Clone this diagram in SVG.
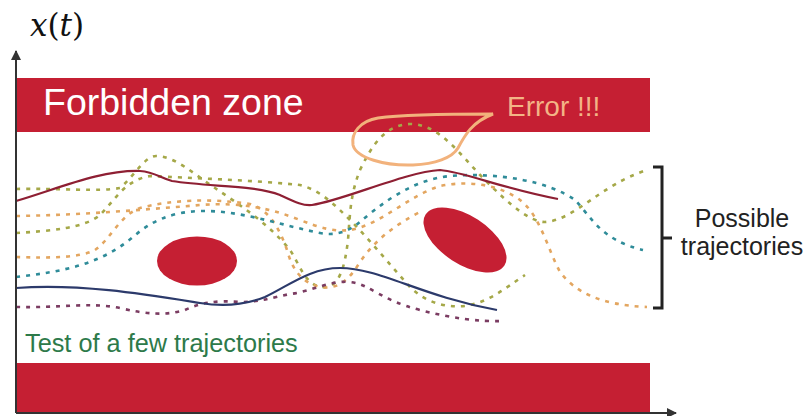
<svg xmlns="http://www.w3.org/2000/svg" width="810" height="416" viewBox="0 0 810 416">
<style>
.zone{fill:#c51f33}
.axis{stroke:#333;stroke-width:2;fill:none}
.dash{fill:none;stroke-width:2.6;stroke-dasharray:4 6;stroke-linecap:butt}
.olive{stroke:#a5a848}
.tan{stroke:#e3a660}
.teal{stroke:#2f8c99}
.purple{stroke:#7b3c62}
.solid{fill:none;stroke-width:2.2}
.lbl{font-family:"Liberation Sans",Arial,sans-serif}
</style>
<defs>
<marker id="arr" viewBox="0 0 10 10" refX="9" refY="5" markerWidth="10" markerHeight="10" markerUnits="userSpaceOnUse" orient="auto">
<path d="M0,0 L10,5 L0,10 Z" fill="#333"/>
</marker>
</defs>
<rect width="810" height="416" fill="#fff"/>
<g id="forbidden-top">
<rect class="zone" x="16" y="78" width="634" height="54"/>
<text class="lbl" x="43" y="115" font-size="37.5" fill="#fff">Forbidden zone</text>
</g>
<g id="forbidden-bottom">
<rect class="zone" x="16" y="363" width="634" height="49"/>
</g>
<g id="obstacle-1"><ellipse class="zone" cx="197" cy="261" rx="40" ry="24.5"/></g>
<g id="obstacle-2"><ellipse class="zone" cx="465" cy="240" rx="47" ry="24" transform="rotate(33 465 240)"/></g>
<g id="trajectories">
<path class="dash olive" d="M16,189 C60,188 100,192 120,188 C135,175 145,156 156,156 C175,156 195,175 215,188 C240,205 270,225 290,250 C300,265 305,285 322,287 C340,289 345,265 348,240 C350,215 350,195 360,170 C372,145 385,125 410,124 C440,124 460,155 485,180 C510,205 530,222 545,222 C575,220 600,185 647,170"/>
<path class="dash olive" d="M16,233 C50,231 85,228 100,215 C115,200 125,180 150,176 C190,178 250,180 300,185 C320,190 335,205 350,220 C370,240 390,265 410,287 C425,302 445,308 465,306 C490,302 505,288 525,275"/>
<path class="dash tan" d="M16,216 C80,215 140,210 200,205 C240,202 270,208 300,220 C320,228 335,232 350,230 C380,225 410,195 440,186 C470,180 500,185 520,200 C540,215 548,250 560,272 C575,292 600,305 647,307"/>
<path class="dash tan" d="M16,257 C50,258 80,258 95,250 C110,240 120,215 140,208 C170,200 210,198 250,204 C270,210 280,230 287,250 C292,268 300,282 320,287 C340,290 350,278 360,262 C375,240 395,225 420,212"/>
<path class="dash teal" d="M16,277 C60,272 100,265 133,237 C150,222 170,212 200,211 C240,210 280,225 320,233 C335,236 345,232 355,226 C380,205 410,180 450,176 C500,172 550,182 575,200 C590,215 600,240 643,250"/>
<path class="dash purple" d="M16,307 C60,308 90,302 120,308 C145,314 165,316 185,310 C200,303 215,300 240,302 C260,302 270,298 290,294 C310,292 330,280 350,282 C370,284 380,300 420,310 C450,318 480,322 502,321"/>
<path class="solid" stroke="#8e1f33" d="M16,201 C60,188 100,170 140,171 C155,172 160,178 172,181 C210,187 255,185 280,195 C295,202 303,206 312,205 C345,200 405,172 440,170 C465,172 500,188 558,199"/>
<path class="solid" stroke="#2c3a6b" d="M16,288 C80,283 150,295 200,303 C225,307 245,305 265,297 C290,285 310,268 340,268 C380,268 420,296 497,310"/>
</g>
<g id="error">
<path d="M493,114 C460,114 400,115 378,118 C360,121 351,133 353,145 C356,158 385,166 413,165 C435,164 452,158 458,148 C465,135 472,122 493,114 Z" fill="none" stroke="#f2b27c" stroke-width="3"/>
<text class="lbl" x="507" y="116" font-size="28" fill="#f3b486">Error !!!</text>
</g>
<g id="possible">
<path d="M653,167 H662 V308 H653 M662,238 H672" fill="none" stroke="#222" stroke-width="3"/>
<text class="lbl" x="742" y="227" font-size="25" fill="#222" text-anchor="middle">Possible</text>
<text class="lbl" x="742" y="255" font-size="25" fill="#222" text-anchor="middle">trajectories</text>
</g>
<g id="test-label">
<text class="lbl" x="25" y="352" font-size="25.3" fill="#2d7a4a">Test of a few trajectories</text>
</g>
<g id="axes">
<line class="axis" x1="16" y1="413" x2="16" y2="51" marker-end="url(#arr)"/>
<line class="axis" x1="16" y1="413" x2="676" y2="413" marker-end="url(#arr)"/>
<text x="30" y="36" font-family="'DejaVu Serif',serif" font-size="31" fill="#111"><tspan font-style="italic">x</tspan>(<tspan font-style="italic">t</tspan>)</text>
</g>
</svg>
